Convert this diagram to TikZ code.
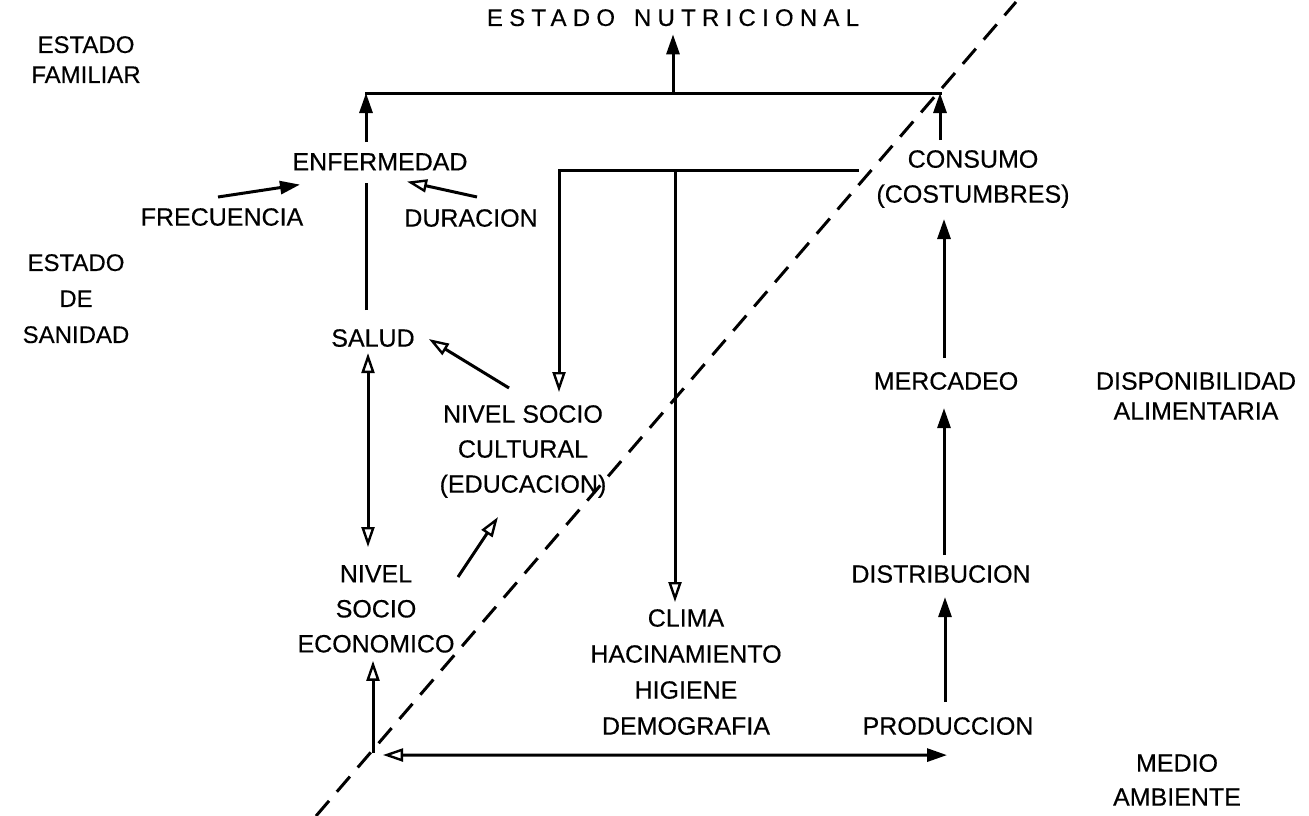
\documentclass[tikz,border=0pt]{standalone}
\usepackage{fontspec}
\setmainfont{Liberation Sans}[FakeBold=0.4]
\usetikzlibrary{arrows.meta,calc}
\begin{document}
\begin{tikzpicture}[x=1pt,y=-1pt,
  lab/.style={inner sep=0pt, anchor=north, align=center, font=\fontsize{25}{35}\selectfont},
  side/.style={lab, font=\fontsize{24}{30}\selectfont},
  ln/.style={line width=3pt, line cap=rect},
  arr/.style={line width=3pt, -{Triangle[length=20pt,width=13pt]}},
  arro/.style={line width=3pt, -{Triangle[open,length=20pt,width=13pt,line width=2.4pt]}},
  darr/.style={line width=3pt, {Triangle[open,length=20pt,width=13pt,line width=2.4pt]}-{Triangle[open,length=20pt,width=13pt,line width=2.4pt]}},
  harr/.style={line width=3pt, {Triangle[open,length=20pt,width=13pt,line width=2.4pt]}-{Triangle[length=20pt,width=13pt]}},
  diag/.style={line width=3pt, dash pattern=on 20pt off 12pt}
]
\useasboundingbox (0,0) rectangle (1309,816);

% labels
\node[lab, font=\fontsize{24}{28}\selectfont\addfontfeature{LetterSpace=26}] (nutri) at (673,9) {ESTADO\hspace{6pt} NUTRICIONAL};
\node[side] (famil) at (86,36) {ESTADO\\FAMILIAR};
\node[side] (sanid) at (76,254) {ESTADO\\[6pt]DE\\[6pt]SANIDAD};
\node[lab] (enf) at (380,153) {ENFERMEDAD};
\node[lab] (frec) at (222,208) {FRECUENCIA};
\node[lab] (dur) at (471,209) {DURACION};
\node[lab] (salud) at (373,329) {SALUD};
\node[lab] (nsc) at (523,405) {NIVEL SOCIO\\CULTURAL\\(EDUCACION)};
\node[lab] (nse) at (376,565) {NIVEL\\SOCIO\\ECONOMICO};
\node[lab, font=\fontsize{25}{36}\selectfont] (clima) at (686,609) {CLIMA\\HACINAMIENTO\\HIGIENE\\DEMOGRAFIA};
\node[lab] (cons) at (973,150) {CONSUMO\\(COSTUMBRES)};
\node[lab] (merc) at (946,372) {MERCADEO};
\node[lab] (distr) at (941,565) {DISTRIBUCION};
\node[lab] (prod) at (948,717) {PRODUCCION};
\node[lab, font=\fontsize{25}{30}\selectfont] (dispo) at (1196,372) {DISPONIBILIDAD\\ALIMENTARIA};
\node[lab, font=\fontsize{25}{34}\selectfont] (medio) at (1177,754) {MEDIO\\AMBIENTE};

% corners and junctions
\coordinate (cTL) at (366,93);
\coordinate (cTR) at (940,93);
\coordinate (jN) at (673,93);
\coordinate (cBL) at (373,753);
\coordinate (bL) at (559,170);
\coordinate (bM) at (675,170);
\coordinate (bR) at (857,170);
\coordinate (dA) at (316,816);
\coordinate (dB) at (1016,2);

% dashed diagonal
\draw[diag] (dA) -- (dB);

% top frame
\draw[ln] (cTL) -- (cTR);
\draw[arr, shorten >=8pt] (jN) -- (jN |- nutri.south);
\draw[arr, shorten <=11pt] (enf.north -| cTL) -- (cTL);
\draw[arr, shorten <=10pt] (cons.north -| cTR) -- (cTR);

% enfermedad inputs
\draw[arr] ($(frec.north)+(-4,-11)$) -- ($(enf.south)+(-80,14)$);
\draw[arro] ($(dur.north)+(6,-12)$) -- ($(enf.south)+(27,11)$);

% salud column
\draw[ln, line cap=butt] ($(salud.north -| cTL)+(0,-19)$) -- ($(enf.south -| cTL)+(0,12)$);
\draw[arro] ($(nsc.north)+(-14,-17)$) -- ($(salud.east)+(14,1)$);
\draw[darr] ($(salud.south)+(-5,6)$) -- ($(nse.north)+(-8,-18)$);
\draw[arro] ($(nse.north)+(82,12)$) -- ($(nsc.south)+(-25,19)$);
\draw[arro] (cBL) -- ($(nse.south)+(-3,8)$);

% bottom
\draw[harr] ($(cBL)+(10,2)$) -- ($(prod.south)+(-1,20)$);

% right column
\draw[arr] ($(prod.north)+(-3,-15)$) -- ($(distr.south)+(4,14)$);
\draw[arr] ($(distr.north)+(3,-10)$) -- ($(merc.south)+(-2,18)$);
\draw[arr] ($(merc.north)+(-2,-14)$) -- ($(cons.south)+(-29,11)$);

% bracket from consumo side
\draw[ln] (bR) -- (bL);
\draw[arro] (bL) -- (bL |- {$(nsc.north)+(0,-13)$});
\draw[arro] (bM) -- (bM |- {$(clima.north)+(0,-7)$});
\end{tikzpicture}
\end{document}
